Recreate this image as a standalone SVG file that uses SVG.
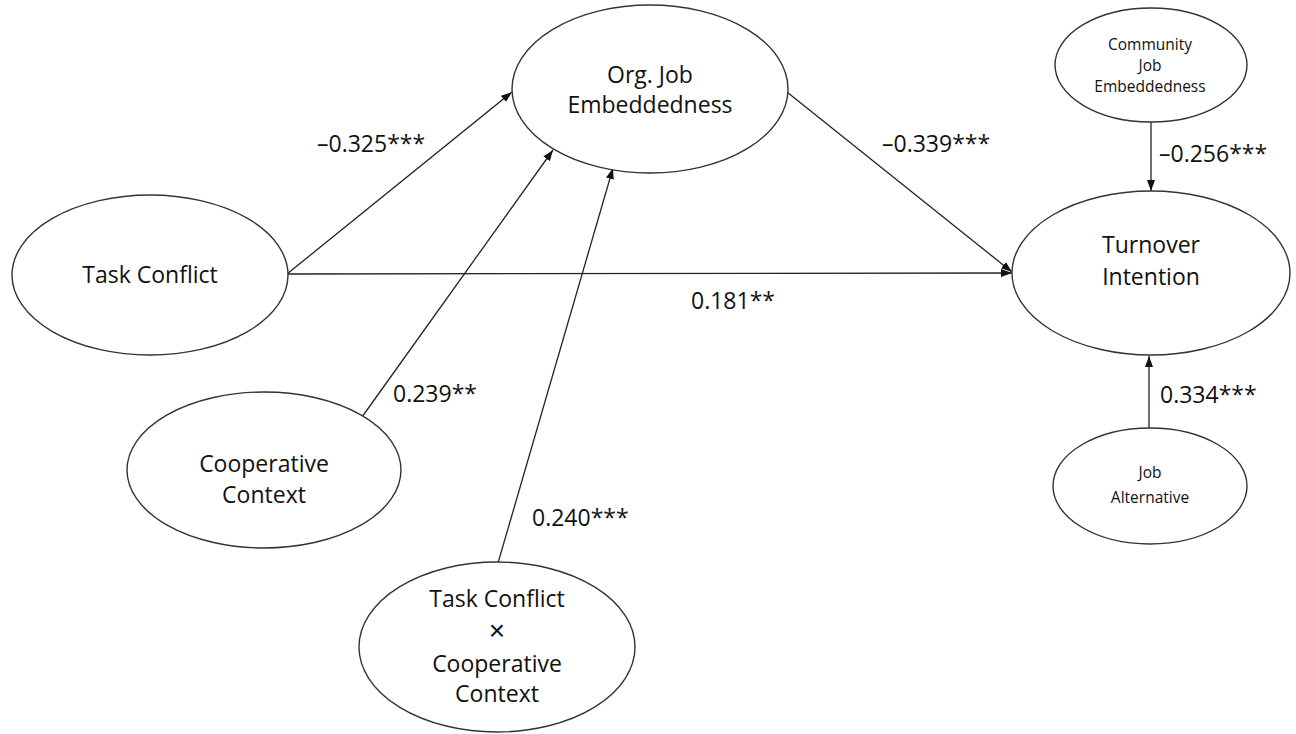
<svg xmlns="http://www.w3.org/2000/svg" width="1296" height="734" viewBox="0 0 1296 734">
<style>
.node ellipse{fill:#fff;stroke:#333;stroke-width:1.4}
.lbl{font-family:"Open Sans","Liberation Sans",sans-serif;font-size:23px;fill:#111;text-anchor:middle}
.sm{font-size:15.5px}
.times{font-family:"Liberation Sans",sans-serif;font-size:28px;fill:#111;text-anchor:middle}
.coef{font-family:"Open Sans","Liberation Sans",sans-serif;font-size:23px;fill:#111}
.edge{stroke:#222;stroke-width:1.3;fill:none;marker-end:url(#ah)}
</style>
<defs>
<marker id="ah" markerUnits="userSpaceOnUse" markerWidth="11" markerHeight="8" refX="11" refY="4" orient="auto">
<path d="M0,0 L11,4 L0,8 z" fill="#111"/>
</marker>
</defs>
<rect width="1296" height="734" fill="#fff"/>
<g id="connectors">
<line class="edge" x1="287" y1="274" x2="512" y2="92"/>
<line class="edge" x1="287" y1="274" x2="1012" y2="273"/>
<line class="edge" x1="787" y1="92" x2="1012" y2="272"/>
<line class="edge" x1="362" y1="417" x2="553" y2="150"/>
<line class="edge" x1="498" y1="563" x2="613" y2="168"/>
<line class="edge" x1="1151" y1="122" x2="1151" y2="191"/>
<line class="edge" x1="1149" y1="428" x2="1149" y2="356"/>
</g>
<g id="labels">
<text class="coef" x="317" y="152">–0.325***</text>
<text class="coef" x="882" y="152">–0.339***</text>
<text class="coef" x="691" y="309">0.181**</text>
<text class="coef" x="393" y="402">0.239**</text>
<text class="coef" x="532" y="526">0.240***</text>
<text class="coef" x="1159" y="162">–0.256***</text>
<text class="coef" x="1160" y="403">0.334***</text>
</g>
<g id="org-job" class="node">
<ellipse cx="650" cy="89" rx="138" ry="84"/>
<text class="lbl" x="650" y="83">Org. Job</text>
<text class="lbl" x="650" y="113">Embeddedness</text>
</g>
<g id="task-conflict" class="node">
<ellipse cx="150" cy="275" rx="138" ry="80"/>
<text class="lbl" x="150" y="283">Task Conflict</text>
</g>
<g id="cooperative" class="node">
<ellipse cx="264" cy="470" rx="137" ry="78"/>
<text class="lbl" x="264" y="472">Cooperative</text>
<text class="lbl" x="264" y="503">Context</text>
</g>
<g id="interaction" class="node">
<ellipse cx="497" cy="647" rx="138" ry="85"/>
<text class="lbl" x="497" y="607">Task Conflict</text>
<text class="times" x="497" y="640">×</text>
<text class="lbl" x="497" y="672">Cooperative</text>
<text class="lbl" x="497" y="702">Context</text>
</g>
<g id="turnover" class="node">
<ellipse cx="1151" cy="273" rx="139" ry="82"/>
<text class="lbl" x="1151" y="253">Turnover</text>
<text class="lbl" x="1151" y="285">Intention</text>
</g>
<g id="community" class="node">
<ellipse cx="1151" cy="65" rx="96" ry="57"/>
<text class="lbl sm" x="1150" y="50">Community</text>
<text class="lbl sm" x="1150" y="71">Job</text>
<text class="lbl sm" x="1150" y="92">Embeddedness</text>
</g>
<g id="job-alternative" class="node">
<ellipse cx="1150" cy="486" rx="97" ry="58"/>
<text class="lbl sm" x="1150" y="478">Job</text>
<text class="lbl sm" x="1150" y="503">Alternative</text>
</g>
</svg>
